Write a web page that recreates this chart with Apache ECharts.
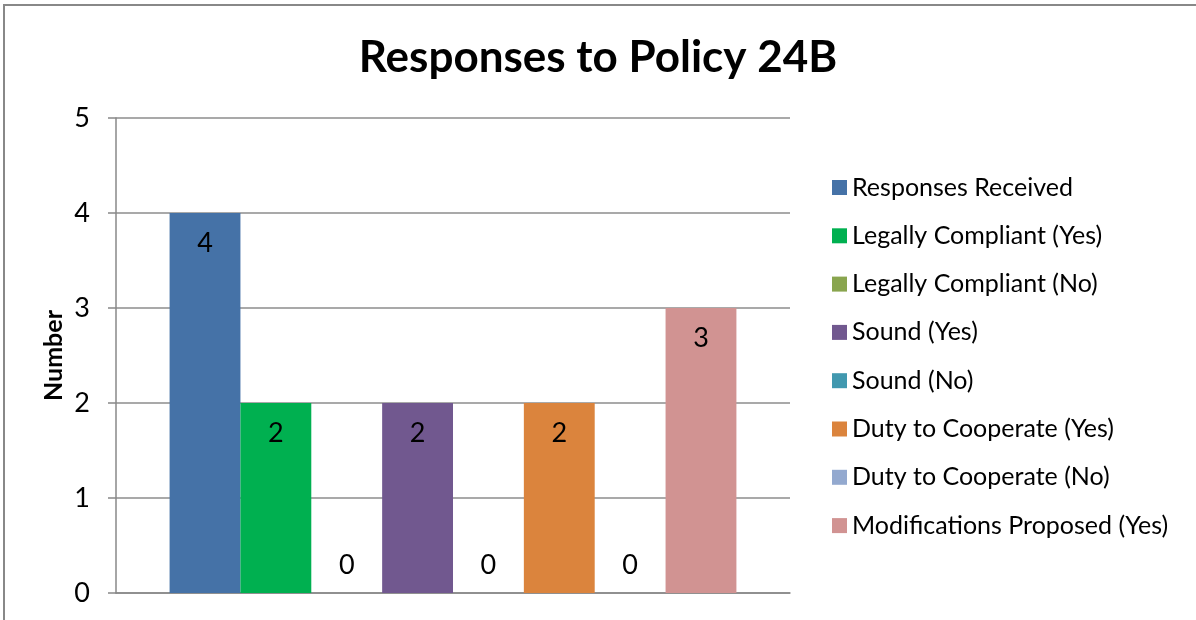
<!DOCTYPE html>
<html>
<head>
<meta charset="utf-8">
<script src="https://cdn.jsdelivr.net/npm/echarts@6/dist/echarts.min.js"></script>
<style>
html,body{margin:0;padding:0;background:#fff;}
#c{width:1196px;height:620px;}
</style>
</head>
<body>
<div id="c"></div>
<script>
var categories = [''];
var seriesNames = [
  'Responses Received',
  'Legally Compliant (Yes)',
  'Legally Compliant (No)',
  'Sound (Yes)',
  'Sound (No)',
  'Duty to Cooperate (Yes)',
  'Duty to Cooperate (No)',
  'Modifications Proposed (Yes)'
];
var seriesValues = [4, 2, 0, 2, 0, 2, 0, 3];
var seriesColors = ['#4572A7', '#00B050', '#89A54E', '#71588F', '#4198AF', '#DB843D', '#93A9CF', '#D19392'];
var yTicks = [0, 1, 2, 3, 4, 5];

var FONT = 'Lato, "Open Sans", sans-serif';
var chart = echarts.init(document.getElementById('c'), null, {renderer: 'canvas'});

var series = seriesNames.map(function (name, i) {
  var v = seriesValues[i];
  var item = {value: v};
  if (v === 0) item.label = {position: 'top', distance: 14};
  return {
    name: name,
    type: 'bar',
    data: [item],
    barGap: '0%',
    barCategoryGap: '15.9%',
    itemStyle: {color: seriesColors[i]},
    label: {
      show: true,
      position: 'insideTop',
      distance: 17,
      color: '#000',
      fontSize: 27,
      fontFamily: FONT
    }
  };
});

chart.setOption({
  animation: false,
  backgroundColor: '#fff',
  title: {
    text: 'Responses to Policy 24B',
    left: 'center',
    top: 31,
    textStyle: {fontSize: 44, fontWeight: 'bold', color: '#000', fontFamily: FONT}
  },
  graphic: [{
    type: 'rect',
    shape: {x: 4, y: 5, width: 1300, height: 700},
    style: {fill: 'none', stroke: '#888', lineWidth: 2},
    silent: true,
    z: -1
  }],
  legend: {
    orient: 'vertical',
    left: 827,
    top: 170,
    icon: 'rect',
    itemWidth: 15,
    itemHeight: 15,
    itemGap: 23.3,
    textStyle: {fontSize: 25, color: '#000', fontFamily: FONT, lineHeight: 25},
    data: seriesNames
  },
  grid: {left: 116, right: 406, top: 118, bottom: 27, containLabel: false},
  xAxis: {
    type: 'category',
    data: categories,
    axisLine: {show: true, lineStyle: {color: '#888', width: 1.5}},
    axisTick: {show: false},
    axisLabel: {show: false}
  },
  yAxis: {
    type: 'value',
    min: yTicks[0],
    max: yTicks[yTicks.length - 1],
    interval: 1,
    name: 'Number',
    nameLocation: 'middle',
    nameGap: 50,
    nameMoveOverlap: false,
    nameRotate: 90,
    nameTextStyle: {fontSize: 25, fontWeight: 'bold', color: '#000', fontFamily: FONT},
    axisLine: {show: true, lineStyle: {color: '#888', width: 1.5}},
    axisTick: {show: true, length: 8, inside: false, lineStyle: {color: '#888', width: 1.5}},
    axisLabel: {fontSize: 27, color: '#000', margin: 26, fontFamily: FONT},
    splitLine: {show: true, lineStyle: {color: '#8c8c8c', width: 1.5}}
  },
  series: series
});
</script>
</body>
</html>
